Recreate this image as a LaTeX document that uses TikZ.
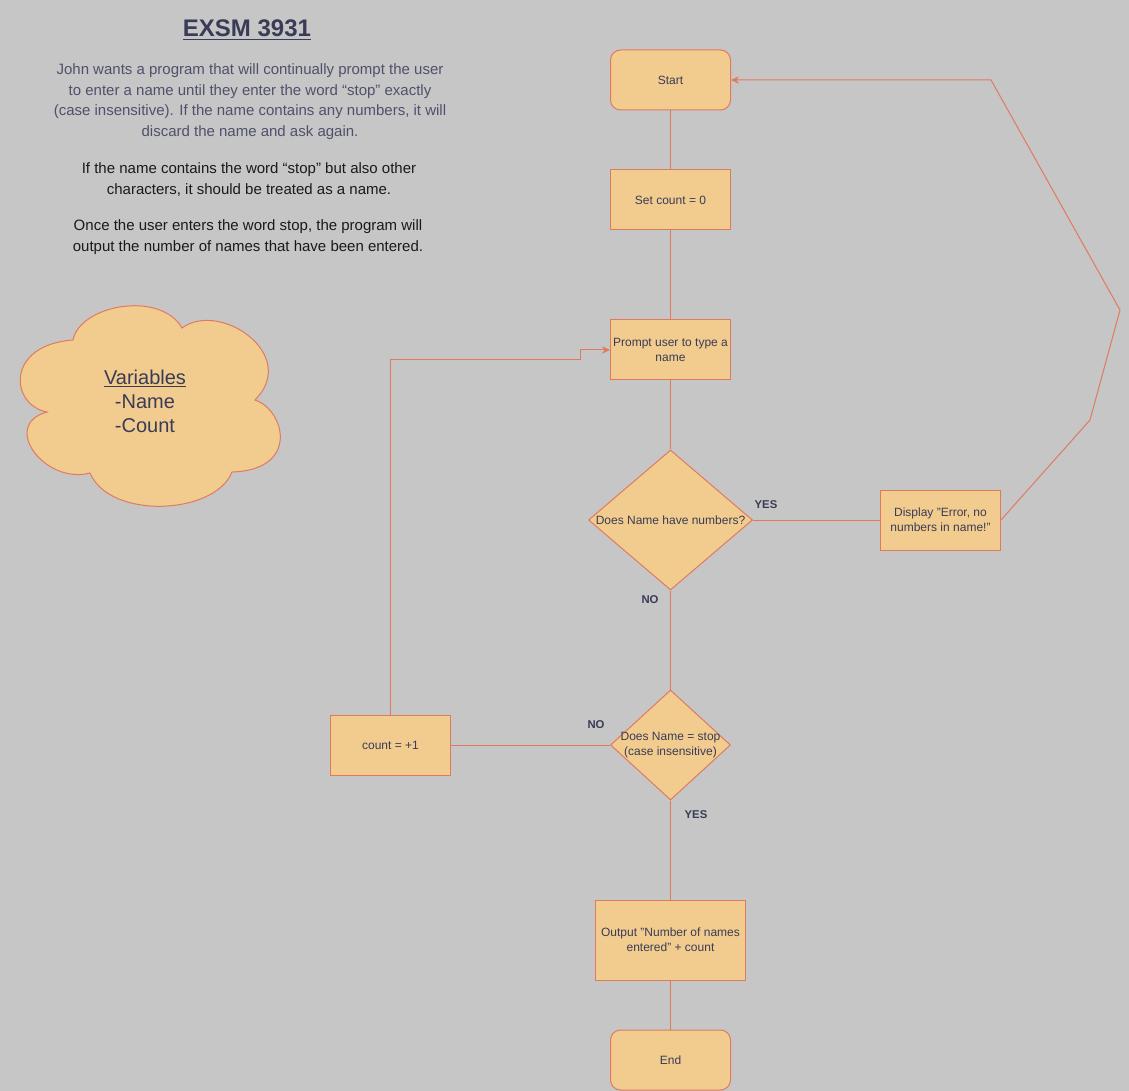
\documentclass[tikz,border=0pt]{standalone}
\usepackage{fontspec}
\setmainfont{Liberation Sans}
\usetikzlibrary{arrows.meta,shapes.geometric}
\definecolor{bgc}{HTML}{C6C6C6}
\definecolor{fillc}{HTML}{F2CC8F}
\definecolor{linec}{HTML}{E07A5F}
\definecolor{txtc}{HTML}{393C56}
\definecolor{parac}{HTML}{4F516B}
\definecolor{darkc}{HTML}{1A1A1A}
\begin{document}
\begin{tikzpicture}[x=0.75pt,y=-0.75pt,
  boxst/.style={draw=linec,fill=fillc,line width=0.75pt,minimum width=90pt,minimum height=45pt,inner sep=1pt,align=center,font=\fontsize{9}{11.5}\selectfont,text=txtc},
  termst/.style={boxst,rounded corners=7.5pt},
  diast/.style={diamond,draw=linec,fill=fillc,line width=0.75pt,inner sep=0pt},
  dtext/.style={align=center,font=\fontsize{9}{11.5}\selectfont,text=txtc,inner sep=0pt},
  conn/.style={draw=linec,line width=0.75pt},
  arr/.style={conn,-{Stealth[length=6pt,width=5.5pt]}},
  lbl/.style={font=\fontsize{8.5}{10}\selectfont\bfseries,text=txtc,inner sep=0pt},
  para/.style={align=center,font=\fontsize{11.25}{15.4}\selectfont,inner sep=0pt}]
\fill[bgc] (0,0) rectangle (1129,1091);
\useasboundingbox (0,0) rectangle (1129,1091);

% title and description
\node[font=\fontsize{18}{21}\selectfont\bfseries,text=txtc,inner sep=0pt] (title) at (247,30) {\underline{EXSM 3931}};
\node[para,text=parac] (p1) at (250,101.5) {John wants a program that will continually prompt the user\\to enter a name until they enter the word “stop” exactly\\(case insensitive). If the name contains any numbers, it will\\discard the name and ask again.};
\node[para,text=darkc] (p2) at (249,179.5) {If the name contains the word “stop” but also other\\characters, it should be treated as a name.};
\node[para,text=darkc] (p3) at (248,237) {Once the user enters the word stop, the program will\\output the number of names that have been entered.};

% cloud
\draw[draw=linec,fill=fillc,line width=0.75pt]
  (73,340) .. controls (80,305) and (160,290) .. (182,328)
  .. controls (220,300) and (300,355) .. (255,400)
  .. controls (285,410) and (300,470) .. (232,472)
  .. controls (215,515) and (110,520) .. (90,473)
  .. controls (45,485) and (0,425) .. (47,412)
  .. controls (10,405) and (5,345) .. (73,340) -- cycle;
\node[align=center,font=\fontsize{15}{18}\selectfont,text=txtc,inner sep=0pt] (vars) at (145,401) {\underline{Variables}\\-Name\\-Count};

% flowchart nodes
\node[termst] (start) at (670.5,80) {Start};
\node[boxst] (setc) at (670.5,200) {Set count = 0};
\node[boxst] (prompt) at (670.5,350) {Prompt user to type a\\name};
\node[diast,minimum width=123pt,minimum height=105pt] (d1) at (670.5,520) {};
\node[dtext] (d1t) at (d1.center) {Does Name have numbers?};
\node[boxst] (disp) at (940.5,520) {Display "Error, no\\numbers in name!"};
\node[diast,minimum width=90pt,minimum height=82.5pt] (d2) at (670.5,745) {};
\node[dtext] (d2t) at (d2.center) {Does Name = stop\\(case insensitive)};
\node[boxst] (cnt) at (390.5,745) {count = +1};
\node[boxst,minimum width=112.5pt,minimum height=60pt] (outp) at (670.5,940) {Output "Number of names\\entered" + count};
\node[termst] (fin) at (670.5,1060) {End};

% connectors
\draw[conn] (start) -- (setc);
\draw[conn] (setc) -- (prompt);
\draw[conn] (prompt) -- (d1.north);
\draw[conn] (d1.east) -- (disp.west);
\draw[conn] (d1.south) -- (d2.north);
\draw[conn] (d2.west) -- (cnt.east);
\draw[conn] (d2.south) -- (outp.north);
\draw[conn] (outp) -- (fin);

\coordinate (k1) at (580,360);
\draw[arr] (cnt.north) |- (k1) -- (k1 |- prompt.west) -- (prompt.west);

\coordinate (r1) at (1090,420);
\coordinate (r2) at (1120,310);
\coordinate (r3) at (991,80);
\draw[arr] (disp.east) -- (r1) -- (r2) -- (r3) -- (start.east);

% labels
\node[lbl] (yes1) at (766,505) {YES};
\node[lbl] (no1) at (650,600) {NO};
\node[lbl] (no2) at (596,725) {NO};
\node[lbl] (yes2) at (696,815) {YES};
\end{tikzpicture}
\end{document}
